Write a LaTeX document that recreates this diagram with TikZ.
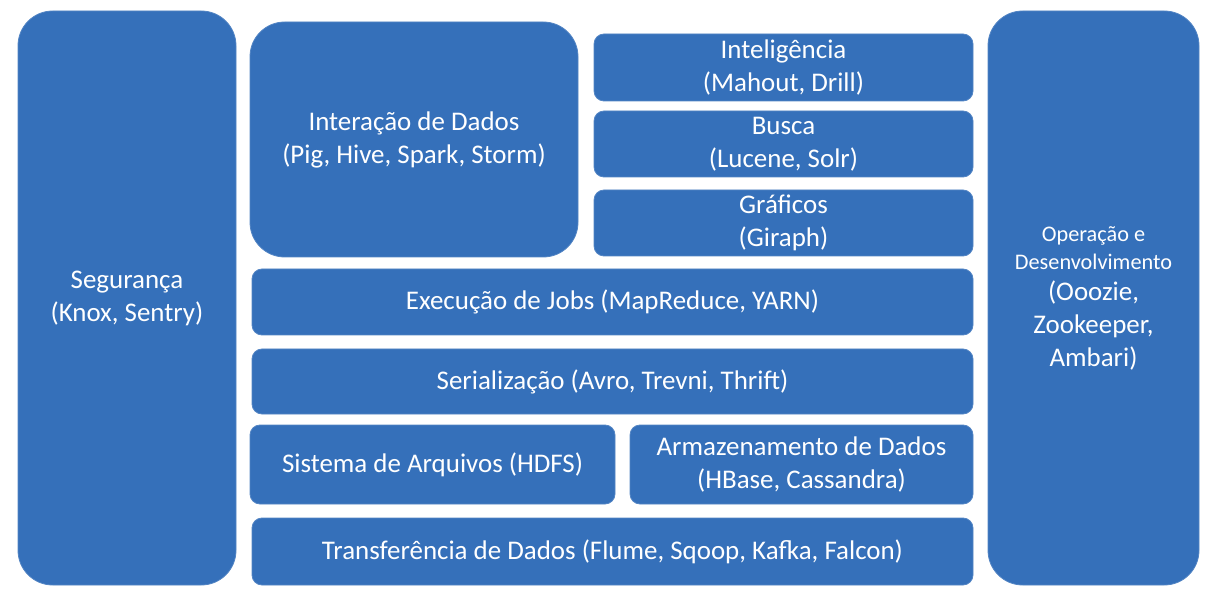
\documentclass[tikz,border=0pt]{standalone}
\usepackage{fontspec}
\setmainfont{Carlito}
\definecolor{hblue}{RGB}{53,112,186}
\newcommand{\opfont}{\fontsize{16.7}{21}\selectfont}
\tikzset{
    blk/.style={fill=hblue, draw=hblue!85!white, line width=0.6pt, text=white, align=center,
        rounded corners=7.5pt, inner sep=0pt, font=\fontsize{20.2}{24.75}\selectfont},
    bigblk/.style={blk, rounded corners=26pt},
}
\begin{document}
\begin{tikzpicture}[x=0.75pt, y=-0.75pt]
    \useasboundingbox (0,0) rectangle (1213,591);

    % colunas laterais
    \node[bigblk, minimum width=163.5pt, minimum height=430.5pt] (seg) at (127,298)
        {Segurança\\(Knox, Sentry)};
    \node[bigblk, minimum width=158.25pt, minimum height=430.5pt] (oper) at (1093.5,298)
        {\opfont Operação e\\[-3.75pt]\opfont Desenvolvimento\\[-1.5pt](Ooozie,\\Zookeeper,\\Ambari)};

    % topo
    \node[bigblk, minimum width=246pt, minimum height=176.25pt] (inter) at (414,139.5)
        {Interação de Dados\\(Pig, Hive, Spark, Storm)};
    \node[blk, minimum width=284.25pt, minimum height=50.25pt] (intel) at (783.5,67.5)
        {Inteligência\\(Mahout, Drill)};
    \node[blk, minimum width=284.25pt, minimum height=49.5pt] (busca) at (783.5,144)
        {Busca\\(Lucene, Solr)};
    \node[blk, minimum width=284.25pt, minimum height=49.5pt] (graf) at (783.5,223)
        {Gráficos\\(Giraph)};

    % camadas
    \node[blk, minimum width=540.75pt, minimum height=49.5pt] (exec) at (612.5,302)
        {Execução de Jobs (MapReduce, YARN)};
    \node[blk, minimum width=540.75pt, minimum height=48.75pt] (ser) at (612.5,381.5)
        {Serialização (Avro, Trevni, Thrift)};
    \node[blk, minimum width=273.75pt, minimum height=59.25pt] (sist) at (432.5,464.5)
        {Sistema de Arquivos (HDFS)};
    \node[blk, minimum width=257.25pt, minimum height=59.25pt] (arm) at (801.5,464.5)
        {Armazenamento de Dados\\(HBase, Cassandra)};
    \node[blk, minimum width=540.75pt, minimum height=50.25pt] (trans) at (612.5,551.5)
        {Transferência de Dados (Flume, Sqoop, Kafka, Falcon)};
\end{tikzpicture}
\end{document}
